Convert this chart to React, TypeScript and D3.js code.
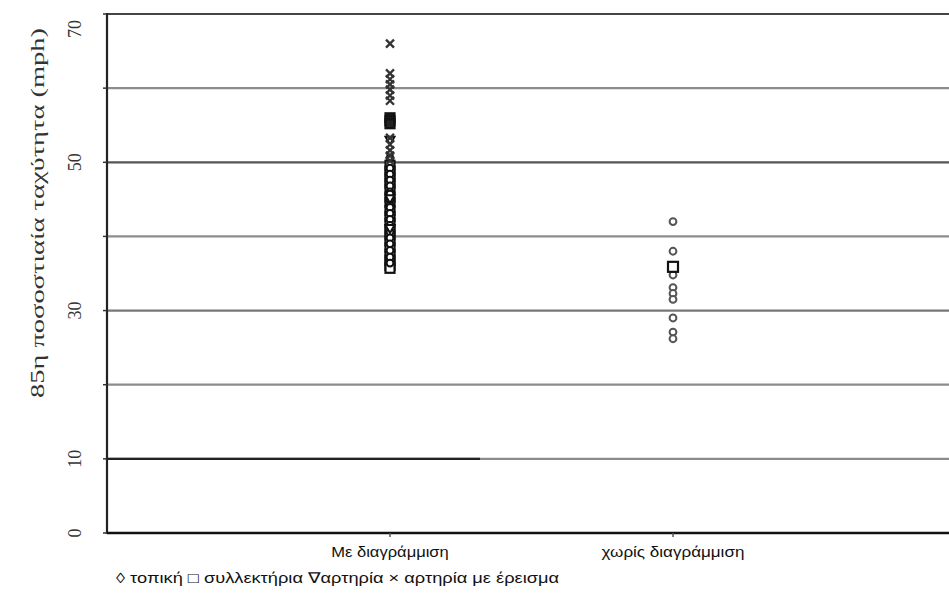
import React from "react";
import * as d3 from "d3";

const categories = ["Με διαγράμμιση", "χωρίς διαγράμμιση"];
const yTickLabels = [0, 10, 30, 50, 70];
const gridValues = [10, 20, 30, 40, 50, 60];

// τοπική (local) – drawn as small circles
const localWith = [50.6, 49.2, 48.4, 47.6, 46.8, 46.0, 45.7, 44.9, 44.2, 43.9, 43.1, 42.3, 41.5, 40.6, 39.8, 39.0, 38.1, 37.2, 36.4];
const localWithout = [42, 38, 35.3, 34.8, 33.1, 32.3, 31.5, 29.0, 27.1, 26.2];
// συλλεκτήρια (collector) – squares
const collectorWith = [56.0, 55.6, 55.2, 49.6, 48.8, 48.0, 47.2, 46.4, 45.3, 44.6, 43.5, 42.7, 41.8, 40.9, 40.2, 39.4, 38.5, 37.6, 36.8, 36.1, 35.7];
const collectorWithout = [35.9];
// αρτηρία (arterial) – inverted triangles
const arterialWith = [52.9, 45.0, 41.0];
// αρτηρία με έρεισμα – crosses
const arterialShoulderWith = [66, 62, 61.2, 60.5, 59.8, 59.0, 58.3, 53.3, 52.4, 51.6, 50.9, 50.2];

const W = 949;
const H = 606;
const left = 107;
const right = 956;
const top = 14;
const bottom = 533;

export default function App() {
  const x = d3.scalePoint<string>().domain(categories).range([left, right]).padding(1);
  const y = d3.scaleLinear().domain([0, 70]).range([bottom, top]);
  const xw = x(categories[0])!;
  const xo = x(categories[1])!;

  const circle = (cx: number, v: number, k: string, col: string) => (
    <circle key={k} cx={cx} cy={y(v)} r={3.4} fill="white" stroke={col} strokeWidth={2} />
  );
  const square = (cx: number, v: number, k: string, s: number, fill: string) => (
    <rect key={k} x={cx - s / 2} y={y(v) - s / 2} width={s} height={s} fill={fill} stroke="#111" strokeWidth={2.2} />
  );
  const tri = (cx: number, v: number, k: string) => {
    const yy = y(v);
    return <path key={k} d={`M${cx - 4.5},${yy - 4} L${cx + 4.5},${yy - 4} L${cx},${yy + 4} Z`} fill="white" stroke="#111" strokeWidth={2} />;
  };
  const cross = (cx: number, v: number, k: string) => {
    const yy = y(v);
    return <path key={k} d={`M${cx - 4},${yy - 4} L${cx + 4},${yy + 4} M${cx - 4},${yy + 4} L${cx + 4},${yy - 4}`} stroke="#333" strokeWidth={2.3} fill="none" />;
  };

  return (
    <svg width={W} height={H} style={{ position: "absolute", left: 0, top: 0, background: "white" }}>
      {/* gridlines */}
      {gridValues.map((v) => (
        <line key={v} x1={left} x2={W} y1={y(v)} y2={y(v)} stroke={v === 50 ? "#555" : v === 30 ? "#777" : "#8c8c8c"} strokeWidth={2.2} />
      ))}
      <line x1={left} x2={480} y1={y(10)} y2={y(10)} stroke="#222" strokeWidth={2.2} />
      {/* frame */}
      <line x1={left} x2={W} y1={top} y2={top} stroke="#444" strokeWidth={2.2} />
      <line x1={left} x2={left} y1={top - 1} y2={bottom + 1} stroke="#222" strokeWidth={2.2} />
      <line x1={left} x2={W} y1={bottom} y2={bottom} stroke="#111" strokeWidth={2.4} />
      {/* y ticks */}
      {d3.range(0, 71, 10).map((v) => (
        <line key={"t" + v} x1={left - 4} x2={left} y1={y(v)} y2={y(v)} stroke="#333" strokeWidth={1.5} />
      ))}
      {categories.map((c) => (
        <line key={"xt" + c} x1={x(c)!} x2={x(c)!} y1={bottom} y2={bottom + 4} stroke="#555" strokeWidth={1.5} />
      ))}
      {yTickLabels.map((v) => {
        const cy = Math.max(y(v), 29);
        return (
          <text key={"l" + v} transform={`translate(81,${cy}) rotate(-90)`} textAnchor="middle" fontFamily="Liberation Serif" fontSize={18} fill="#333">
            {v}
          </text>
        );
      })}
      <text transform="translate(44,213) rotate(-90)" textAnchor="middle" fontFamily="Liberation Serif" fontSize={19} fill="#333" textLength={370} lengthAdjust="spacingAndGlyphs">
        85η ποσοστιαία ταχύτητα (mph)
      </text>
      {/* category labels */}
      {categories.map((c) => (
        <text key={c} x={x(c)!} y={557} textAnchor="middle" fontFamily="Liberation Sans" fontSize={14.5} fill="#111" textLength={c.length * 8.4} lengthAdjust="spacingAndGlyphs">
          {c}
        </text>
      ))}
      <text x={116} y={583} fontFamily="Liberation Sans" fontSize={14.5} fill="#111" textLength={443} lengthAdjust="spacingAndGlyphs">
        ◊ τοπική □ συλλεκτήρια ∇αρτηρία × αρτηρία με έρεισμα
      </text>
      {/* markers */}
      {collectorWith.map((v, i) => square(xw, v, "cw" + i, 9, i < 3 ? "#222" : "white"))}
      {localWith.map((v, i) => circle(xw, v, "lw" + i, "#111"))}
      {arterialWith.map((v, i) => tri(xw, v, "aw" + i))}
      {arterialShoulderWith.map((v, i) => cross(xw, v, "xw" + i))}
      {localWithout.map((v, i) => circle(xo, v, "lo" + i, "#555"))}
      {collectorWithout.map((v, i) => square(xo, v, "co" + i, 10, "white"))}
    </svg>
  );
}
